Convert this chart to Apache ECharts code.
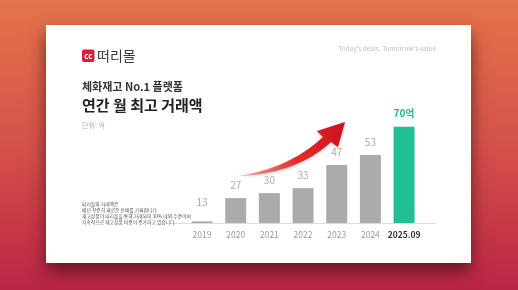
<!DOCTYPE html>
<html><head><meta charset="utf-8">
<script src="https://cdn.jsdelivr.net/npm/echarts@6/dist/echarts.min.js"></script>
<style>html,body{margin:0;padding:0;}#c{width:518px;height:290px;}</style>
</head><body><div id="c"></div>
<script>
const categories = ['2019','2020','2021','2022','2023','2024','2025.09'];
const values = [13, 27, 30, 33, 47, 53, 70];
const unitSuffix = '억';
const highlightIndex = 6;
const titleLine1 = '체화재고 No.1 플랫폼';
const titleLine2 = '연간 월 최고 거래액';
const unitText = '단위: 억';
const tagline = "Today's deals, Tomorrow's value";
const brand = '떠리몰';
const notes = ['떠리몰의 거래액은', '매년 꾸준히 새로운 판매를 기록합니다', '재고상품이 떠리몰을 통해 거래되어 30% 내외 수준이며', '지속적으로 재고상품 비중이 증가하고 있습니다'];

const FONT = '"Noto Sans CJK KR", "Noto Sans", sans-serif';
const chart = echarts.init(document.getElementById('c'));

const data = values.map((v, i) => {
  const hl = i === highlightIndex;
  const item = {
    value: v,
    itemStyle: { color: hl ? '#20bf96' : '#ababab' },
    label: hl ? { color: '#25b58e', fontWeight: 'bold', fontSize: 10, formatter: v + unitSuffix } : {}
  };
  if (i === 0) item.label = { distance: 14 };
  return item;
});

// decorative arrow outline (quadratic edges sampled)
function quad(p0, c, p1, n) {
  const pts = [];
  for (let k = 0; k <= n; k++) {
    const t = k / n, a = (1 - t) * (1 - t), b = 2 * (1 - t) * t, d = t * t;
    pts.push([a * p0[0] + b * c[0] + d * p1[0], a * p0[1] + b * c[1] + d * p1[1]]);
  }
  return pts;
}
const arrowPts = [].concat(
  quad([238, 176], [290, 168], [323, 137], 20),
  [[317, 131], [345, 122], [338, 147]],
  quad([331, 142], [296, 174], [238, 176], 20)
);

chart.setOption({
  backgroundColor: {
    type: 'linear', x: 0, y: 0, x2: 0, y2: 1,
    colorStops: [
      { offset: 0, color: '#e4744a' },
      { offset: 0.5, color: '#d5524a' },
      { offset: 1, color: '#ba2545' }
    ]
  },
  animation: false,
  grid: { left: 185.2, right: 97.1, top: 126.7, bottom: 67 },
  xAxis: {
    type: 'category', data: categories,
    axisLine: { show: false }, axisTick: { show: false },
    axisLabel: {
      interval: 0, margin: 8, fontSize: 8.5, fontFamily: FONT, color: '#9a9a9a',
      formatter: (val, idx) => idx === highlightIndex ? '{b|' + val + '}' : val,
      rich: { b: { fontSize: 8.5, fontWeight: 'bold', color: '#333', fontFamily: FONT } }
    }
  },
  yAxis: { type: 'value', min: 12, max: 70, show: false, splitLine: { show: false } },
  series: [{
    type: 'bar', data: data, barWidth: 21,
    label: { show: true, position: 'top', distance: 8, color: '#ababab', fontSize: 10, fontFamily: FONT }
  }],
  graphic: [
    { type: 'rect', z: -5, shape: { x: 46, y: 25, width: 425, height: 238 },
      style: { fill: '#ffffff', shadowBlur: 16, shadowOffsetY: 9, shadowColor: 'rgba(70,10,25,0.7)' } },
    { type: 'line', shape: { x1: 173, y1: 223.5, x2: 436, y2: 223.5 }, style: { stroke: '#dddddd', lineWidth: 1 } },
    { type: 'rect', shape: { x: 82, y: 49.5, width: 12.5, height: 12.5, r: 2 }, style: { fill: '#d3213c' } },
    { type: 'text', x: 88.3, y: 55.8, style: { text: 'cc', fill: '#fff', font: 'bold 8px ' + FONT, align: 'center', verticalAlign: 'middle' } },
    { type: 'text', x: 97, y: 56, style: { text: brand, fill: '#3a3a3a', font: '14px ' + FONT, verticalAlign: 'middle' } },
    { type: 'text', x: 436, y: 49, style: { text: tagline, fill: '#bdbdbd', font: '6.5px ' + FONT, align: 'right', verticalAlign: 'middle' } },
    { type: 'text', x: 82, y: 87, style: { text: titleLine1, fill: '#333', font: 'bold 11px ' + FONT, verticalAlign: 'middle' } },
    { type: 'text', x: 82, y: 105.5, style: { text: titleLine2, fill: '#222', font: 'bold 15px ' + FONT, verticalAlign: 'middle' } },
    { type: 'text', x: 82, y: 125.5, style: { text: unitText, fill: '#b0b0b0', font: '7px ' + FONT, verticalAlign: 'middle' } },
    { type: 'text', x: 82, y: 204.5, style: { text: notes[0], fill: '#555', font: '4.8px ' + FONT, verticalAlign: 'middle' } },
    { type: 'text', x: 82, y: 210.5, style: { text: notes[1], fill: '#555', font: '4.8px ' + FONT, verticalAlign: 'middle' } },
    { type: 'text', x: 82, y: 216.2, style: { text: notes[2], fill: '#555', font: '4.8px ' + FONT, verticalAlign: 'middle' } },
    { type: 'text', x: 82, y: 221.8, style: { text: notes[3], fill: '#555', font: '4.8px ' + FONT, verticalAlign: 'middle' } },
    { type: 'polygon', shape: { points: arrowPts },
      style: { fill: {
        type: 'linear', x: 0, y: 1, x2: 1, y2: 0,
        colorStops: [
          { offset: 0, color: 'rgba(240,90,90,0.5)' },
          { offset: 0.5, color: '#e52a2a' },
          { offset: 1, color: '#c8121b' }
        ]
      }, shadowBlur: 3, shadowColor: 'rgba(120,0,0,0.3)', shadowOffsetY: 1 } }
  ]
});
</script></body></html>
